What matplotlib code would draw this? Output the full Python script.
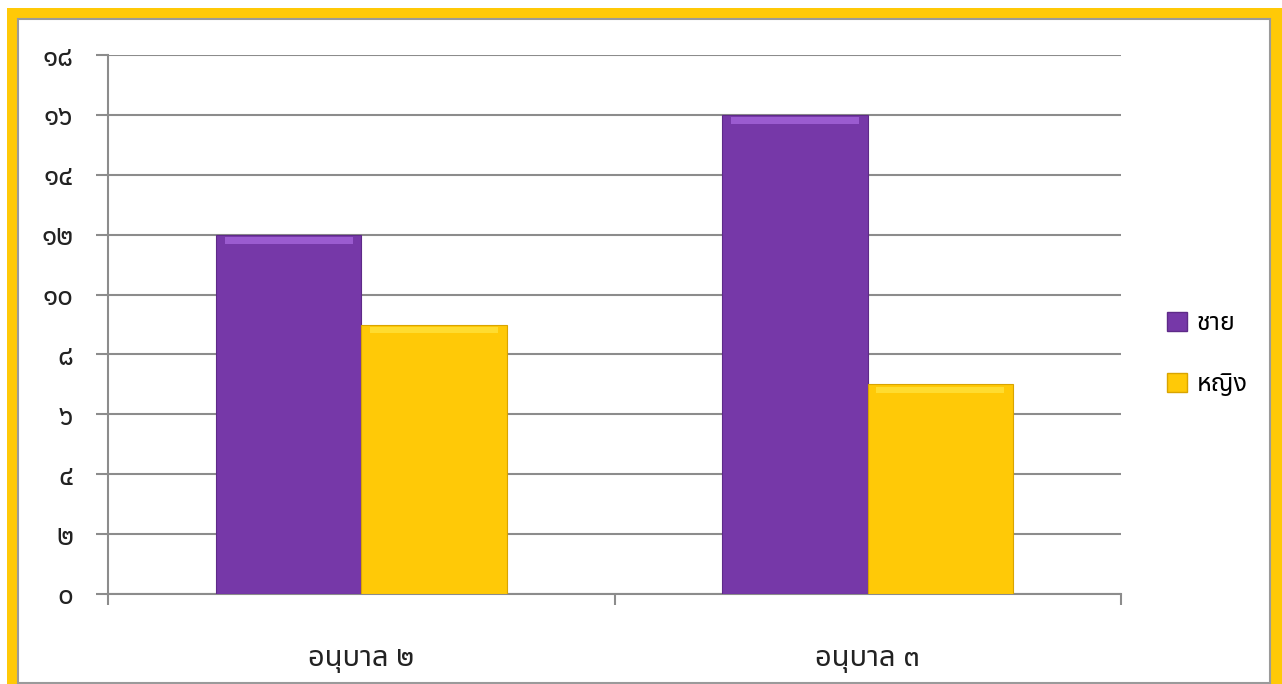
import matplotlib
matplotlib.use("Agg")
import matplotlib.pyplot as plt
from matplotlib import font_manager
from matplotlib.patches import Rectangle
import numpy as np

# --- Daten ---
categories = ["อนุบาล ๒", "อนุบาล ๓"]
series_names = ["ชาย", "หญิง"]
boys = [12, 16]
girls = [9, 7]
y_ticks = [0, 2, 4, 6, 8, 10, 12, 14, 16, 18]
thai_digits = str.maketrans("0123456789", "๐๑๒๓๔๕๖๗๘๙")
y_labels = [str(v).translate(thai_digits) for v in y_ticks]

PURPLE = "#7638A8"
GOLD = "#FFC907"
GRID = "#8C8C8C"

# Thai-Schrift suchen
installed = {f.name for f in font_manager.fontManager.ttflist}
thai_font = "DejaVu Sans"
for cand in ["Noto Sans Thai", "Noto Sans Thai UI", "Sarabun", "Anuphan", "Bai Jamjuree"]:
    if cand in installed:
        thai_font = cand
        break
plt.rcParams["font.family"] = [thai_font, "DejaVu Sans"]

W, H = 1282, 684
fig = plt.figure(figsize=(W / 100, H / 100), dpi=100)
fig.patch.set_facecolor("white")

# Rahmen: gold aussen, grauer Strich innen (hinter den Achsen)
fig.patches.append(Rectangle((7 / W, -0.1), (W - 7) / W + 0.1, 1.1 - 8 / H,
                             transform=fig.transFigure, facecolor=GOLD,
                             edgecolor="none", zorder=-3))
fig.patches.append(Rectangle((17.5 / W, 1 / H), (1269.5 - 17.5) / W, (H - 18.5) / H - 1 / H,
                             transform=fig.transFigure, facecolor="white",
                             edgecolor="#9A9A9A", linewidth=1.5, zorder=-2))

ax = fig.add_axes([108 / W, 1 - 594 / H, (1121 - 108) / W, (594 - 55) / H])
ax.set_facecolor("none")

x = np.arange(len(categories))
bw = 0.287
ax.bar(x - bw / 2, boys, bw, color=PURPLE, edgecolor="#5E2A88", linewidth=0.8, zorder=3)
ax.bar(x + bw / 2, girls, bw, color=GOLD, edgecolor="#D9A400", linewidth=0.8, zorder=3)
# heller Streifen oben (Bevel-Effekt)
ax.bar(x - bw / 2, [0.22] * len(boys), bw * 0.88, bottom=np.array(boys) - 0.3,
       color="#9B5BD0", linewidth=0, zorder=4)
ax.bar(x + bw / 2, [0.22] * len(girls), bw * 0.88, bottom=np.array(girls) - 0.3,
       color="#FFDC30", linewidth=0, zorder=4)

ax.set_xlim(-0.5, len(categories) - 0.5)
ax.set_ylim(0, 18)
ax.set_yticks(y_ticks)
ax.set_yticklabels(y_labels, fontsize=20, color="#222222")
ax.yaxis.grid(True, color=GRID, linewidth=1.5, zorder=1)
ax.set_axisbelow(True)
ax.tick_params(axis="y", length=9, width=1.5, color=GRID, pad=16)

# Kategorie-Trennstriche unten, Beschriftung mittig
ax.set_xticks(np.arange(-0.5, len(categories), 1.0))
ax.set_xticklabels([])
ax.tick_params(axis="x", which="major", length=8, width=1.5, color=GRID)
ax.set_xticks(x, minor=True)
ax.set_xticklabels(categories, minor=True, fontsize=21, color="#222222")
ax.tick_params(axis="x", which="minor", length=0, pad=36)

for s in ["top", "right"]:
    ax.spines[s].set_visible(False)
for s in ["left", "bottom"]:
    ax.spines[s].set_color(GRID)
    ax.spines[s].set_linewidth(1.5)

handles = [Rectangle((0, 0), 1, 1, facecolor=PURPLE, edgecolor="#5E2A88"),
           Rectangle((0, 0), 1, 1, facecolor=GOLD, edgecolor="#D9A400")]
fig.legend(handles, series_names, loc="center left",
           bbox_to_anchor=(1167 / W, 1 - 354 / H), frameon=False, fontsize=18,
           handlelength=0.8, handleheight=0.8, handletextpad=0.4, labelspacing=1.45,
           borderpad=0.0, borderaxespad=0.0)

fig.savefig("out.png", dpi=100, facecolor=fig.get_facecolor())
